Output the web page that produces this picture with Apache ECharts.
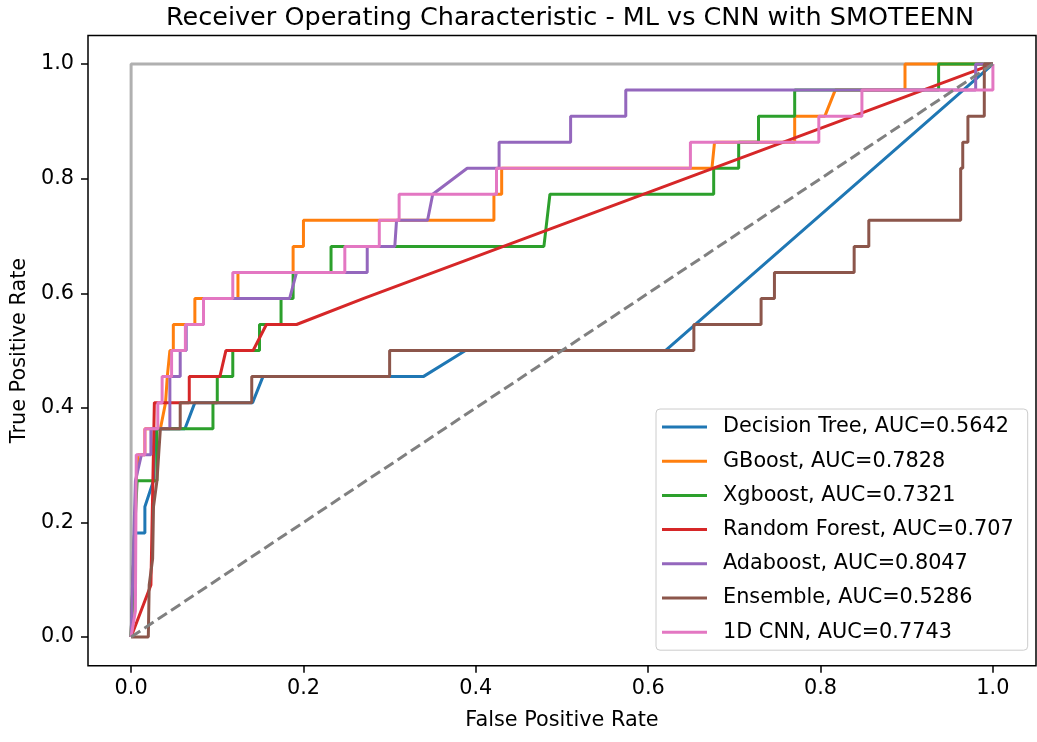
<!DOCTYPE html>
<html>
<head>
<meta charset="utf-8">
<script src="https://cdn.jsdelivr.net/npm/echarts@6/dist/echarts.min.js"></script>
<style>
html, body { margin: 0; padding: 0; background: #fff; }
#main { width: 1037px; height: 742px; }
</style>
</head>
<body>
<div id="main"></div>
<script>
// ROC curves (fpr / tpr pairs)
var names = ['Decision Tree, AUC=0.5642', 'GBoost, AUC=0.7828', 'Xgboost, AUC=0.7321',
  'Random Forest, AUC=0.707', 'Adaboost, AUC=0.8047', 'Ensemble, AUC=0.5286', '1D CNN, AUC=0.7743'];
var colors = ['#1f77b4', '#ff7f0e', '#2ca02c', '#d62728', '#9467bd', '#8c564b', '#e377c2'];

var fprTree = [0, 0.004, 0.016, 0.016, 0.026, 0.028, 0.0625, 0.074, 0.141, 0.153, 0.339, 0.388, 0.62, 1];
var tprTree = [0, 0.1818, 0.1818, 0.2273, 0.2727, 0.3636, 0.3636, 0.4091, 0.4091, 0.4545, 0.4545, 0.5, 0.5, 1];

var fprGb = [0, 0.006, 0.008, 0.016, 0.016, 0.034, 0.04, 0.042, 0.045, 0.049, 0.049, 0.074, 0.074, 0.124, 0.124, 0.188, 0.188, 0.2, 0.2, 0.421, 0.421, 0.43, 0.43, 0.674, 0.677, 0.77, 0.77, 0.805, 0.817, 0.898, 0.898, 1];
var tprGb = [0, 0.2727, 0.3182, 0.3182, 0.3636, 0.3636, 0.4091, 0.4545, 0.5, 0.5, 0.5455, 0.5455, 0.5909, 0.5909, 0.6364, 0.6364, 0.6818, 0.6818, 0.7273, 0.7273, 0.7727, 0.7727, 0.8182, 0.8182, 0.8636, 0.8636, 0.9091, 0.9091, 0.9545, 0.9545, 1, 1];

var fprXgb = [0, 0.004, 0.007, 0.03, 0.03, 0.095, 0.095, 0.1, 0.1, 0.118, 0.118, 0.149, 0.149, 0.174, 0.174, 0.188, 0.188, 0.232, 0.232, 0.479, 0.486, 0.676, 0.676, 0.705, 0.705, 0.728, 0.728, 0.77, 0.77, 0.937, 0.937, 1];
var tprXgb = [0, 0.1818, 0.2727, 0.2727, 0.3636, 0.3636, 0.4091, 0.4091, 0.4545, 0.4545, 0.5, 0.5, 0.5455, 0.5455, 0.5909, 0.5909, 0.6364, 0.6364, 0.6818, 0.6818, 0.7727, 0.7727, 0.8182, 0.8182, 0.8636, 0.8636, 0.9091, 0.9091, 0.9545, 0.9545, 1, 1];

var fprRf = [0, 0.023, 0.027, 0.0675, 0.0675, 0.103, 0.11, 0.1416, 0.157, 0.192, 0.27, 1];
var tprRf = [0, 0.0909, 0.4091, 0.4091, 0.4545, 0.4545, 0.5, 0.5, 0.5455, 0.5455, 0.5909, 1];

var fprAda = [0, 0.005, 0.012, 0.023, 0.023, 0.045, 0.045, 0.057, 0.057, 0.064, 0.064, 0.084, 0.084, 0.184, 0.192, 0.274, 0.274, 0.306, 0.308, 0.344, 0.35, 0.39, 0.427, 0.427, 0.51, 0.51, 0.574, 0.574, 0.98, 0.98, 1];
var tprAda = [0, 0.2727, 0.3182, 0.3182, 0.3636, 0.3636, 0.4545, 0.4545, 0.5, 0.5, 0.5455, 0.5455, 0.5909, 0.5909, 0.6364, 0.6364, 0.6818, 0.6818, 0.7273, 0.7273, 0.7727, 0.8182, 0.8182, 0.8636, 0.8636, 0.9091, 0.9091, 0.9545, 0.9545, 1, 1];

var fprEns = [0, 0.02, 0.021, 0.025, 0.026, 0.03, 0.032, 0.034, 0.057, 0.057, 0.14, 0.14, 0.30, 0.30, 0.653, 0.653, 0.731, 0.731, 0.7465, 0.7465, 0.839, 0.839, 0.856, 0.856, 0.9626, 0.9626, 0.965, 0.965, 0.971, 0.971, 0.99, 0.99, 1];
var tprEns = [0, 0, 0.0909, 0.1364, 0.2273, 0.2727, 0.3182, 0.3636, 0.3636, 0.4091, 0.4091, 0.4545, 0.4545, 0.5, 0.5, 0.5455, 0.5455, 0.5909, 0.5909, 0.6364, 0.6364, 0.6818, 0.6818, 0.7273, 0.7273, 0.8182, 0.8182, 0.8636, 0.8636, 0.9091, 0.9091, 1, 1];

var fprCnn = [0, 0.005, 0.006, 0.016, 0.016, 0.031, 0.031, 0.036, 0.036, 0.047, 0.047, 0.063, 0.063, 0.084, 0.084, 0.118, 0.118, 0.248, 0.248, 0.288, 0.288, 0.311, 0.311, 0.424, 0.424, 0.649, 0.649, 0.798, 0.798, 0.848, 0.848, 1, 1];
var tprCnn = [0, 0.0455, 0.3182, 0.3182, 0.3636, 0.3636, 0.4091, 0.4091, 0.4545, 0.4545, 0.5, 0.5, 0.5455, 0.5455, 0.5909, 0.5909, 0.6364, 0.6364, 0.6818, 0.6818, 0.7273, 0.7273, 0.7727, 0.7727, 0.8182, 0.8182, 0.8636, 0.8636, 0.9091, 0.9091, 0.9545, 0.9545, 1];

// reference lines
var fprPerfect = [0, 0, 1];
var tprPerfect = [0, 1, 1];
var fprChance = [0, 1];
var tprChance = [0, 1];

var ticks = [0, 0.2, 0.4, 0.6, 0.8, 1.0];

var curves = [[fprTree, tprTree], [fprGb, tprGb], [fprXgb, tprXgb], [fprRf, tprRf],
  [fprAda, tprAda], [fprEns, tprEns], [fprCnn, tprCnn]];

function zip(xs, ys) {
  return xs.map(function (x, i) { return [x, ys[i]]; });
}

var font = 'DejaVu Sans';
var fs = 20.8;

var series = curves.map(function (c, i) {
  return {
    name: names[i],
    type: 'line',
    data: zip(c[0], c[1]),
    symbol: 'none',
    lineStyle: { width: 3, color: colors[i] },
    itemStyle: { color: colors[i] },
    z: 2 + i
  };
});
series.push({
  name: 'chance', type: 'line', data: zip(fprChance, tprChance), symbol: 'none',
  lineStyle: { width: 3, color: '#808080', type: [11, 5] }, z: 10
});
series.push({
  name: 'perfect', type: 'line', data: zip(fprPerfect, tprPerfect), symbol: 'none',
  lineStyle: { width: 3, color: '#b0b0b0' }, z: 1
});

var chart = echarts.init(document.getElementById('main'));
chart.setOption({
  animation: false,
  backgroundColor: '#fff',
  textStyle: { fontFamily: font },
  title: {
    text: 'Receiver Operating Characteristic - ML vs CNN with SMOTEENN',
    left: 565, top: 0, textAlign: 'center',
    textStyle: { fontFamily: font, fontSize: 25.5, fontWeight: 'normal', color: '#000' }
  },
  grid: {
    left: 88, top: 35.4, width: 948, height: 630.3,
    show: true, borderColor: '#000', borderWidth: 1.5, backgroundColor: 'transparent'
  },
  legend: {
    data: names,
    orient: 'vertical',
    left: 656, top: 409,
    padding: [7, 14, 7, 6],
    itemGap: 12.2,
    itemWidth: 45, itemHeight: 3,
    icon: 'rect',
    backgroundColor: 'rgba(255,255,255,0.8)',
    borderColor: '#cccccc', borderWidth: 1, borderRadius: 4,
    textStyle: { fontFamily: font, fontSize: fs, color: '#000', lineHeight: 22, padding: [0, 0, 0, 11] }
  },
  xAxis: {
    type: 'value', min: -0.05, max: 1.05,
    name: 'False Positive Rate', nameLocation: 'middle', nameGap: 44,
    nameTextStyle: { fontFamily: font, fontSize: fs, color: '#000' },
    axisLine: { show: false, onZero: false },
    axisTick: { show: true, length: 7, customValues: ticks, lineStyle: { color: '#000', width: 1.5 } },
    axisLabel: { customValues: ticks, formatter: function (v) { return v.toFixed(1); },
      fontFamily: font, fontSize: fs, color: '#000', margin: 12 },
    splitLine: { show: false }
  },
  yAxis: {
    type: 'value', min: -0.05, max: 1.05,
    name: 'True Positive Rate', nameLocation: 'middle', nameGap: 54,
    nameTextStyle: { fontFamily: font, fontSize: fs, color: '#000' },
    axisLine: { show: false, onZero: false },
    axisTick: { show: true, length: 7, customValues: ticks, lineStyle: { color: '#000', width: 1.5 } },
    axisLabel: { customValues: ticks, formatter: function (v) { return v.toFixed(1); },
      fontFamily: font, fontSize: fs, color: '#000', margin: 14 },
    splitLine: { show: false }
  },
  series: series
});
</script>
</body>
</html>
